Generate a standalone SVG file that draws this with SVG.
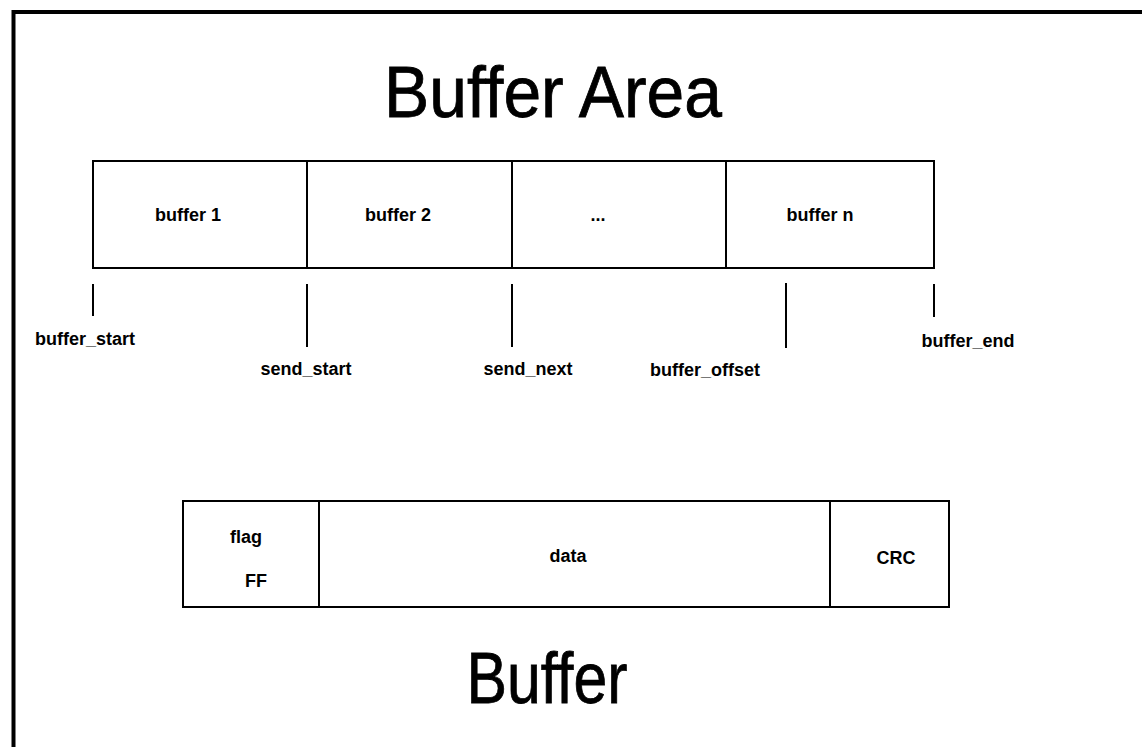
<svg xmlns="http://www.w3.org/2000/svg" width="1142" height="747" viewBox="0 0 1142 747">
<style>
.ln{stroke:#000;stroke-width:2;fill:none}
.bx{stroke:#000;stroke-width:2;fill:#fff}
.lbl{font-family:"Liberation Sans",Arial,sans-serif;font-weight:bold;font-size:18px;fill:#000;text-anchor:middle}
.ttl{font-family:"Liberation Sans",Arial,sans-serif;font-size:72px;fill:#000;stroke:#000;stroke-width:0.8;text-anchor:middle}
</style>
<rect width="1142" height="747" fill="#fff"/>
<path id="frame" d="M13.5,747 V12 H1142" stroke="#000" stroke-width="4" fill="none"/>
<text id="title-area" class="ttl" x="553" y="117" textLength="338" lengthAdjust="spacingAndGlyphs">Buffer Area</text>
<g id="buffer-area">
  <rect class="bx" x="93" y="161" width="841" height="107"/>
  <g id="buffer1"><text class="lbl" x="188" y="221">buffer 1</text></g>
  <g id="buffer2"><line class="ln" x1="307" y1="161" x2="307" y2="268"/><text class="lbl" x="398" y="221">buffer 2</text></g>
  <g id="bufferdots"><line class="ln" x1="512" y1="161" x2="512" y2="268"/><text class="lbl" x="598" y="221">...</text></g>
  <g id="buffern"><line class="ln" x1="726" y1="161" x2="726" y2="268"/><text class="lbl" x="820" y="221">buffer n</text></g>
</g>
<g id="connectors">
  <line class="ln" x1="93" y1="284" x2="93" y2="316"/>
  <line class="ln" x1="307" y1="284" x2="307" y2="347"/>
  <line class="ln" x1="512" y1="284" x2="512" y2="347"/>
  <line class="ln" x1="786" y1="283" x2="786" y2="348"/>
  <line class="ln" x1="934" y1="284" x2="934" y2="317"/>
</g>
<g id="ptr-buffer_start"><text class="lbl" x="85" y="345">buffer_start</text></g>
<g id="ptr-send_start"><text class="lbl" x="306" y="375">send_start</text></g>
<g id="ptr-send_next"><text class="lbl" x="528" y="375">send_next</text></g>
<g id="ptr-buffer_offset"><text class="lbl" x="705" y="376">buffer_offset</text></g>
<g id="ptr-buffer_end"><text class="lbl" x="968" y="347">buffer_end</text></g>
<g id="buffer">
  <rect class="bx" x="183" y="501" width="766" height="106"/>
  <g id="flag"><text class="lbl" x="246" y="543">flag</text><text class="lbl" x="256" y="587">FF</text></g>
  <g id="data"><line class="ln" x1="319" y1="501" x2="319" y2="607"/><text class="lbl" x="568" y="562">data</text></g>
  <g id="crc"><line class="ln" x1="830" y1="501" x2="830" y2="607"/><text class="lbl" x="896" y="564">CRC</text></g>
</g>
<text id="title-buffer" class="ttl" x="547" y="703" textLength="161" lengthAdjust="spacingAndGlyphs">Buffer</text>
</svg>
